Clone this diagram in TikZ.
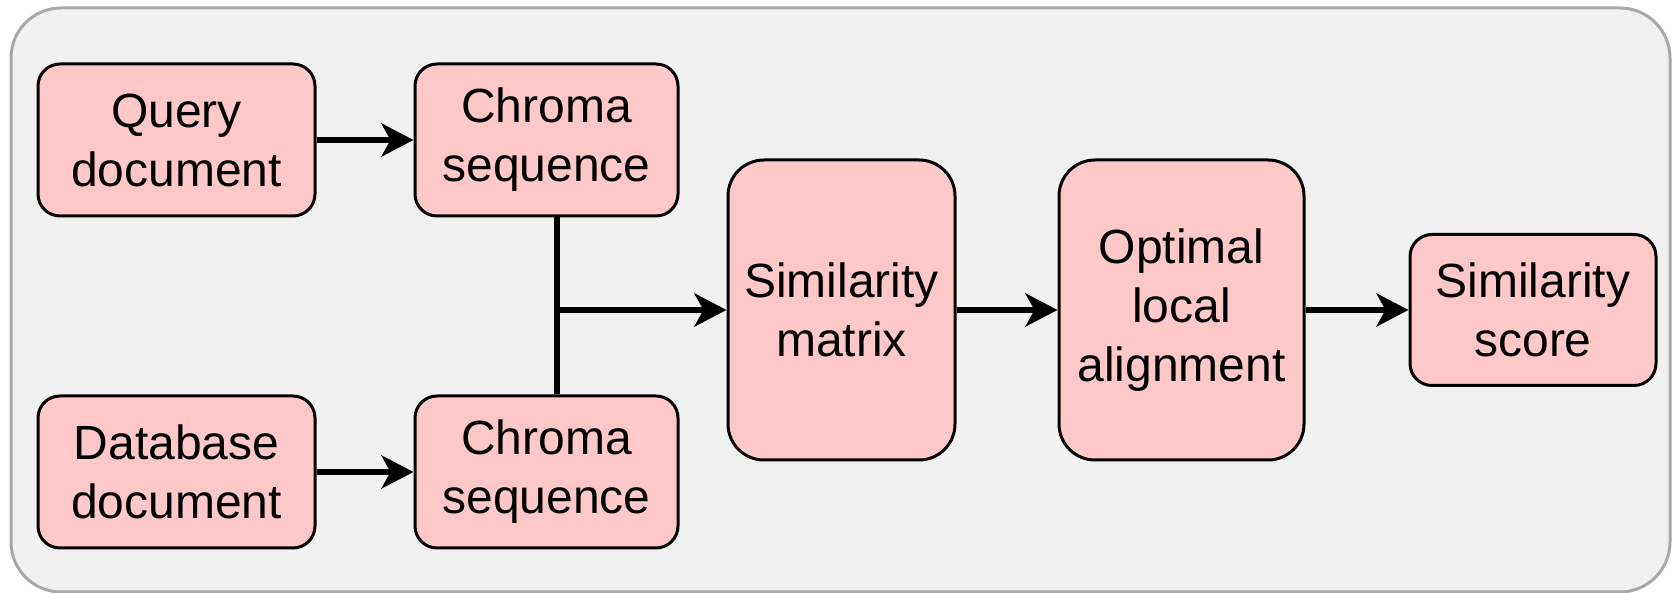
\documentclass[tikz,border=0pt]{standalone}
\usepackage{fontspec}
\setmainfont{Liberation Sans}
\usepackage{xcolor}
\usepackage{tikz}
\usetikzlibrary{arrows.meta, positioning}
\definecolor{boxpink}{RGB}{255, 200, 200}
\definecolor{panel}{RGB}{241, 241, 241}
\definecolor{frame}{RGB}{168, 168, 168}

\begin{document}
\begin{tikzpicture}[
  x=0.5pt, y=0.5pt,
  node distance = 88.5pt and 48.5pt,
  box/.style    = {rectangle, rounded corners=11pt, draw=black, line width=1.5pt,
                   fill=boxpink, inner sep=0pt, align=center,
                   minimum width=138.5pt, minimum height=76pt,
                   font=\fontsize{24}{29.5}\selectfont},
  bigbox/.style = {box, rounded corners=18pt, minimum height=150pt},
  line/.style   = {line width=3.2pt},
  arr/.style    = {-{Stealth[length=16pt, width=16.5pt, inset=4.5pt]}, line width=3.2pt},
]
  \useasboundingbox (0,0) rectangle (1677,593);

  % Panel
  \draw[draw=frame, fill=panel, line width=1.5pt, rounded corners=25pt]
    (11,1) rectangle (1670,585);

  % Inputs
  \node[box] (qdoc) at (176.5,453) {Query\\document};
  \node[box, below=of qdoc] (ddoc) {Database\\document};

  % Chroma features
  \node[box, minimum width=131.5pt, right=of qdoc] (qchroma) {Chroma\\sequence};
  \node[box, minimum width=131.5pt, right=of ddoc] (dchroma) {Chroma\\sequence};

  % Matching
  \node[bigbox, minimum width=113.5pt] (simmat) at (841.5,283) {Similarity\\matrix};
  \node[bigbox, minimum width=122.5pt, right=50.5pt of simmat] (align) {Optimal\\local\\alignment};
  \node[box, minimum width=123pt, minimum height=75.5pt, right=51.5pt of align] (score) {Similarity\\score};

  \coordinate (join) at (557,283);

  % Arrows
  \draw[arr]  (qdoc) -- (qchroma);
  \draw[arr]  (ddoc) -- (dchroma);
  \draw[line] (qchroma.south -| join) -- (dchroma.north -| join);
  \draw[arr]  (join) -- (simmat);
  \draw[arr]  (simmat) -- (align);
  \draw[arr]  (align) -- (score);
\end{tikzpicture}
\end{document}
